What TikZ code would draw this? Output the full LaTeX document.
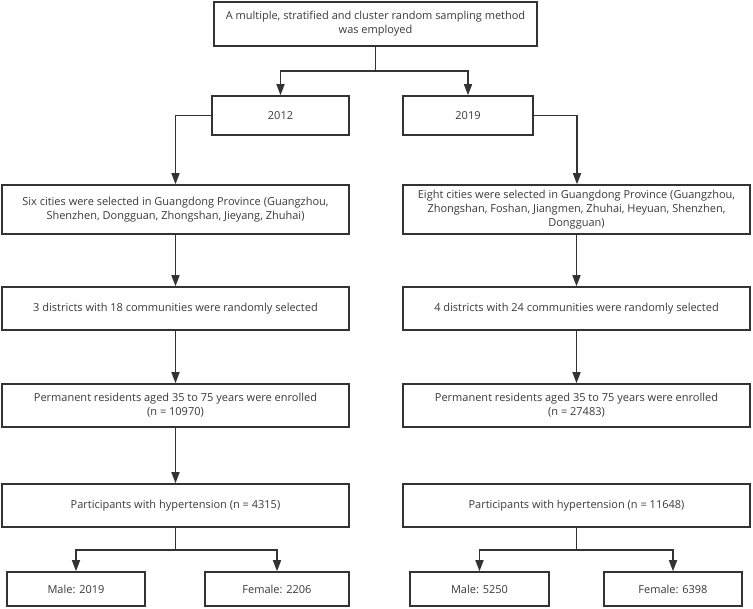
\documentclass[tikz,border=0pt]{standalone}
\usepackage{fontspec}
\setmainfont{Open Sans}
\usetikzlibrary{arrows.meta}
\definecolor{linec}{HTML}{333333}
\definecolor{txtc}{HTML}{3A3A3A}
\begin{document}
\begin{tikzpicture}[x=1pt,y=-1pt,
  box/.style={draw=linec, line width=1.5pt, inner sep=0pt, align=center,
    font=\fontsize{11}{14}\selectfont, text=txtc},
  conn/.style={draw=linec, line width=1.5pt},
  arr/.style={conn,-{Triangle[length=11pt,width=8pt]}}]
\fill[white] (0,0) rectangle (753,609);
\useasboundingbox (0,0) rectangle (753,609);
% nodes
\node[box, minimum width=323pt, minimum height=44pt] (top) at (375.5,24)
  {A multiple, stratified and cluster random sampling method\\was employed};
\node[box, minimum width=137pt, minimum height=39pt] (y12) at (280.5,115.5) {2012};
\node[box, minimum width=130pt, minimum height=39pt] (y19) at (468,115.5) {2019};
\node[box, minimum width=347pt, minimum height=49pt] (l1) at (175.5,209.5)
  {Six cities were selected in Guangdong Province (Guangzhou,\\Shenzhen, Dongguan, Zhongshan, Jieyang, Zhuhai)};
\node[box, minimum width=347pt, minimum height=49pt] (r1) at (576.5,209.5)
  {Eight cities were selected in Guangdong Province (Guangzhou,\\Zhongshan, Foshan, Jiangmen, Zhuhai, Heyuan, Shenzhen,\\Dongguan)};
\node[box, minimum width=347pt, minimum height=43pt] (l2) at (175.5,308.5)
  {3 districts with 18 communities were randomly selected};
\node[box, minimum width=347pt, minimum height=43pt] (r2) at (576.5,308.5)
  {4 districts with 24 communities were randomly selected};
\node[box, minimum width=347pt, minimum height=43pt] (l3) at (175.5,405.5)
  {Permanent residents aged 35 to 75 years were enrolled\\(n = 10970)};
\node[box, minimum width=347pt, minimum height=43pt] (r3) at (576.5,405.5)
  {Permanent residents aged 35 to 75 years were enrolled\\(n = 27483)};
\node[box, minimum width=347pt, minimum height=43pt] (l4) at (175.5,505.5)
  {Participants with hypertension (n = 4315)};
\node[box, minimum width=347pt, minimum height=43pt] (r4) at (576.5,505.5)
  {Participants with hypertension (n = 11648)};
\node[box, minimum width=138pt, minimum height=34pt] (ml) at (76,589) {Male: 2019};
\node[box, minimum width=144pt, minimum height=34pt] (fl) at (277,589) {Female: 2206};
\node[box, minimum width=139pt, minimum height=34pt] (mr) at (479.5,589) {Male: 5250};
\node[box, minimum width=138pt, minimum height=34pt] (fr) at (673,589) {Female: 6398};
% junction coordinates
\coordinate (j0) at (375.5,71);
\coordinate (jl) at (175.5,115.5);
\coordinate (jr) at (577,115.5);
\coordinate (jl4) at (175.5,550);
\coordinate (jr4) at (576.5,550);
% connectors
\draw[conn] (top.south) -- (j0);
\draw[arr] (j0) -| (y12.north);
\draw[arr] (j0) -| (y19.north);
\draw[arr] (y12.west) -- (jl) -- (l1.north);
\draw[arr] (y19.east) -- (jr) -- (r1.north -| jr);
\draw[arr] (l1) -- (l2);
\draw[arr] (l2) -- (l3);
\draw[arr] (l3) -- (l4);
\draw[arr] (r1) -- (r2);
\draw[arr] (r2) -- (r3);
\draw[conn] (l4.south) -- (jl4);
\draw[arr] (jl4) -| (ml.north);
\draw[arr] (jl4) -| (fl.north);
\draw[conn] (r4.south) -- (jr4);
\draw[arr] (jr4) -| (mr.north);
\draw[arr] (jr4) -| (fr.north);
\end{tikzpicture}
\end{document}
